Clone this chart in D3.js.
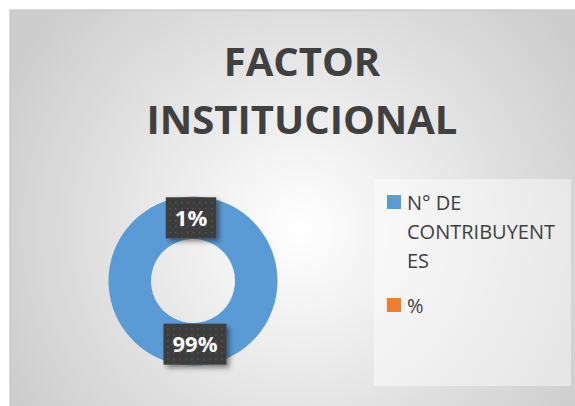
<!DOCTYPE html>
<html>
<head>
<meta charset="utf-8">
<script src="https://cdn.jsdelivr.net/npm/d3@7"></script>
<style>
    html, body { margin: 0; padding: 0; background: #fff; }
    svg { display: block; }
</style>
</head>
<body>
<svg id="chart" width="575" height="406"></svg>
<script>
// Data
const titleLines = ['FACTOR', 'INSTITUCIONAL'];
const categories = ['N° DE CONTRIBUYENTES', '%'];
const values = [99, 1];
const colors = ['#5b9bd5', '#ed7d31'];
const legendLines = [['N° DE', 'CONTRIBUYENT', 'ES'], ['%']];

/**
 * Visual configs.
 */
const visWidth = 575, visHeight = 406,
    frame = { x: 10, y: 10, w: 600, h: 420 },
    center = { x: 193, y: 281 },
    outerRadius = 84.5,
    innerRadius = 42,
    legendBox = { x: 374, y: 179, w: 197, h: 207 };

const svg = d3.select('#chart');
const defs = svg.append('defs');

// Background gradient of the chart area
const bg = defs.append('radialGradient').attr('id', 'bg')
    .attr('gradientUnits', 'userSpaceOnUse')
    .attr('cx', 300).attr('cy', 230).attr('r', 330);
bg.append('stop').attr('offset', '0%').attr('stop-color', '#ffffff');
bg.append('stop').attr('offset', '100%').attr('stop-color', '#cdcdcd');

// Dotted fill for the data label boxes
const pattern = defs.append('pattern').attr('id', 'dots')
    .attr('patternUnits', 'userSpaceOnUse')
    .attr('width', 6).attr('height', 6);
pattern.append('rect').attr('width', 6).attr('height', 6).attr('fill', '#3d3d3d');
pattern.append('rect').attr('x', 2).attr('y', 2).attr('width', 1.5).attr('height', 1.5).attr('fill', '#555');

const shadow = defs.append('filter').attr('id', 'shadow')
    .attr('x', '-30%').attr('y', '-30%').attr('width', '160%').attr('height', '160%');
shadow.append('feDropShadow').attr('dx', 3).attr('dy', 3).attr('stdDeviation', 2.5)
    .attr('flood-color', '#000').attr('flood-opacity', 0.45);

// Chart area
svg.append('rect')
    .attr('x', frame.x).attr('y', frame.y)
    .attr('width', frame.w).attr('height', frame.h)
    .attr('fill', 'url(#bg)')
    .attr('stroke', '#bcbcbc').attr('stroke-width', 1);

// Title
svg.append('g').selectAll('text').data(titleLines).join('text')
    .attr('x', 302)
    .attr('y', (d, i) => 76 + i * 58)
    .attr('text-anchor', 'middle')
    .attr('font-family', 'Open Sans')
    .attr('font-weight', 'bold')
    .attr('font-size', 40)
    .attr('fill', '#404040')
    .text(d => d);

// Donut
const pie = d3.pie().sort(null).value(d => d);
const arcs = pie(values);
const arc = d3.arc().innerRadius(innerRadius).outerRadius(outerRadius);
const labelArc = d3.arc().innerRadius((innerRadius + outerRadius) / 2).outerRadius((innerRadius + outerRadius) / 2);

const donut = svg.append('g').attr('transform', 'translate(' + center.x + ',' + center.y + ')');
donut.selectAll('path').data(arcs).join('path')
    .attr('d', arc)
    .attr('fill', (d, i) => colors[i]);

// Data labels
const fmt = d3.format('.0%');
const total = d3.sum(values);
const labels = donut.selectAll('.label').data(arcs).join('g').attr('class', 'label')
    .attr('transform', d => 'translate(' + labelArc.centroid(d) + ')');

labels.each(function(d) {
    const g = d3.select(this);
    const txt = fmt(d.value / total);
    const box = g.append('rect').attr('fill', 'url(#dots)').attr('filter', 'url(#shadow)');
    const t = g.append('text')
        .attr('text-anchor', 'middle')
        .attr('dy', '0.36em')
        .attr('font-family', 'Open Sans')
        .attr('font-weight', 'bold')
        .attr('font-size', 22)
        .attr('fill', '#fff')
        .text(txt);
    const w = t.node().getComputedTextLength() + 18;
    box.attr('x', -w / 2).attr('y', -20.5).attr('width', w).attr('height', 41);
});

// Legend
svg.append('rect')
    .attr('x', legendBox.x).attr('y', legendBox.y)
    .attr('width', legendBox.w).attr('height', legendBox.h)
    .attr('fill', '#fff').attr('fill-opacity', 0.45);

const legendY = [195, 298];
const legend = svg.append('g').selectAll('g').data(categories).join('g')
    .attr('transform', (d, i) => 'translate(387,' + legendY[i] + ')');
legend.append('rect')
    .attr('width', 14).attr('height', 14)
    .attr('fill', (d, i) => colors[i]);
legend.append('text')
    .attr('font-family', 'Open Sans')
    .attr('font-size', 20)
    .attr('fill', '#404040')
    .selectAll('tspan').data((d, i) => legendLines[i]).join('tspan')
    .attr('x', 20)
    .attr('y', (d, j) => 15 + j * 29)
    .text(d => d);
</script>
</body>
</html>
